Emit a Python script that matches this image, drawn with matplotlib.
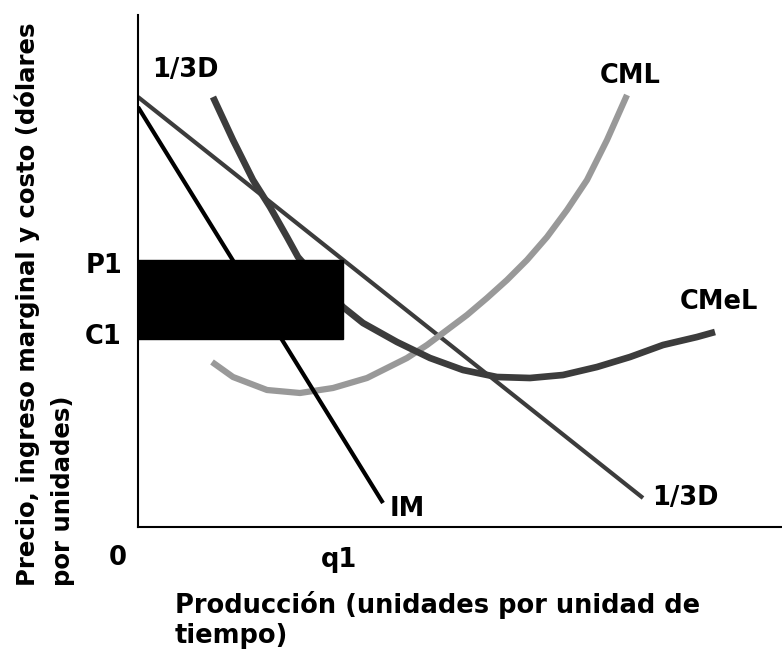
import matplotlib
matplotlib.use("Agg")
import matplotlib.pyplot as plt
from matplotlib.patches import Rectangle

# data (arbitrary units)
demand_x = [0.0, 50.5]
demand_y = [43.0, 2.9]

im_x = [0.0, 24.5]
im_y = [42.0, 2.4]

cmel_x = [7.5, 9.5, 11.5, 13.2, 14.9, 16.0, 18.2, 20.5, 22.5, 25.9, 29.2, 32.5, 35.9,
          39.2, 42.5, 45.9, 49.2, 52.5, 55.9, 57.7]
cmel_y = [43.0, 38.7, 34.7, 32.0, 29.0, 27.0, 24.5, 22.0, 20.4, 18.5, 16.9, 15.7, 15.0,
          14.9, 15.2, 16.0, 17.0, 18.2, 19.0, 19.5]

cml_x = [7.4, 9.5, 12.9, 16.2, 19.5, 22.9, 26.9, 28.9, 30.9, 32.9, 34.9, 36.9, 38.9,
         40.9, 42.9, 44.9, 46.9, 48.9]
cml_y = [16.5, 15.0, 13.7, 13.4, 13.9, 14.9, 16.9, 18.2, 19.7, 21.2, 22.9, 24.7, 26.7,
         29.0, 31.7, 34.7, 38.7, 43.2]

q1 = 20.5
p1 = 26.7
c1 = 18.8

fig = plt.figure(figsize=(7.82, 6.5), dpi=100)
ax = fig.add_axes([138/782, 123/650, 644/782, 512/650])
ax.set_xlim(0, 64.4)
ax.set_ylim(0, 51.2)

dark = '#3c3c3c'
ax.plot(demand_x, demand_y, color=dark, lw=3.0, solid_capstyle='butt')
ax.plot(cml_x, cml_y, color='#999999', lw=4.5, solid_capstyle='butt')
ax.plot(cmel_x, cmel_y, color=dark, lw=4.8, solid_capstyle='butt', solid_joinstyle='round')
ax.plot(im_x, im_y, color='black', lw=3.0, solid_capstyle='butt')

# profit rectangle
ax.add_patch(Rectangle((0, c1), q1, p1 - c1, color='black', zorder=5))

for s in ['top', 'right']:
    ax.spines[s].set_visible(False)
ax.spines['left'].set_linewidth(1.5)
ax.spines['bottom'].set_linewidth(1.5)
ax.set_xticks([])
ax.set_yticks([])

fs = 18.5
kw = dict(fontsize=fs, fontweight='bold', clip_on=False)
ax.text(1.4, 45.7, '1/3D', ha='left', va='center', **kw)
ax.text(46.2, 45.1, 'CML', ha='left', va='center', **kw)
ax.text(54.2, 22.5, 'CMeL', ha='left', va='center', **kw)
ax.text(51.4, 2.9, '1/3D', ha='left', va='center', **kw)
ax.text(25.2, 1.8, 'IM', ha='left', va='center', **kw)
ax.text(-1.6, 26.1, 'P1', ha='right', va='center', **kw)
ax.text(-1.6, 19.0, 'C1', ha='right', va='center', **kw)
ax.text(-2.0, -3.1, '0', ha='center', va='center', **kw)
ax.text(q1 - 0.4, -3.3, 'q1', ha='center', va='center', **kw)

fig.text(175/782, 1 - 591/650, 'Producción (unidades por unidad de\ntiempo)',
         ha='left', va='top', fontsize=fs, fontweight='bold', linespacing=1.18)
fig.text(14/782, 1 - 586/650, 'Precio, ingreso marginal y costo (dólares\npor unidades)',
         ha='left', va='bottom', rotation=90, fontsize=17.6, fontweight='bold',
         linespacing=1.62, multialignment='left')

fig.savefig('out.png', dpi=100)
